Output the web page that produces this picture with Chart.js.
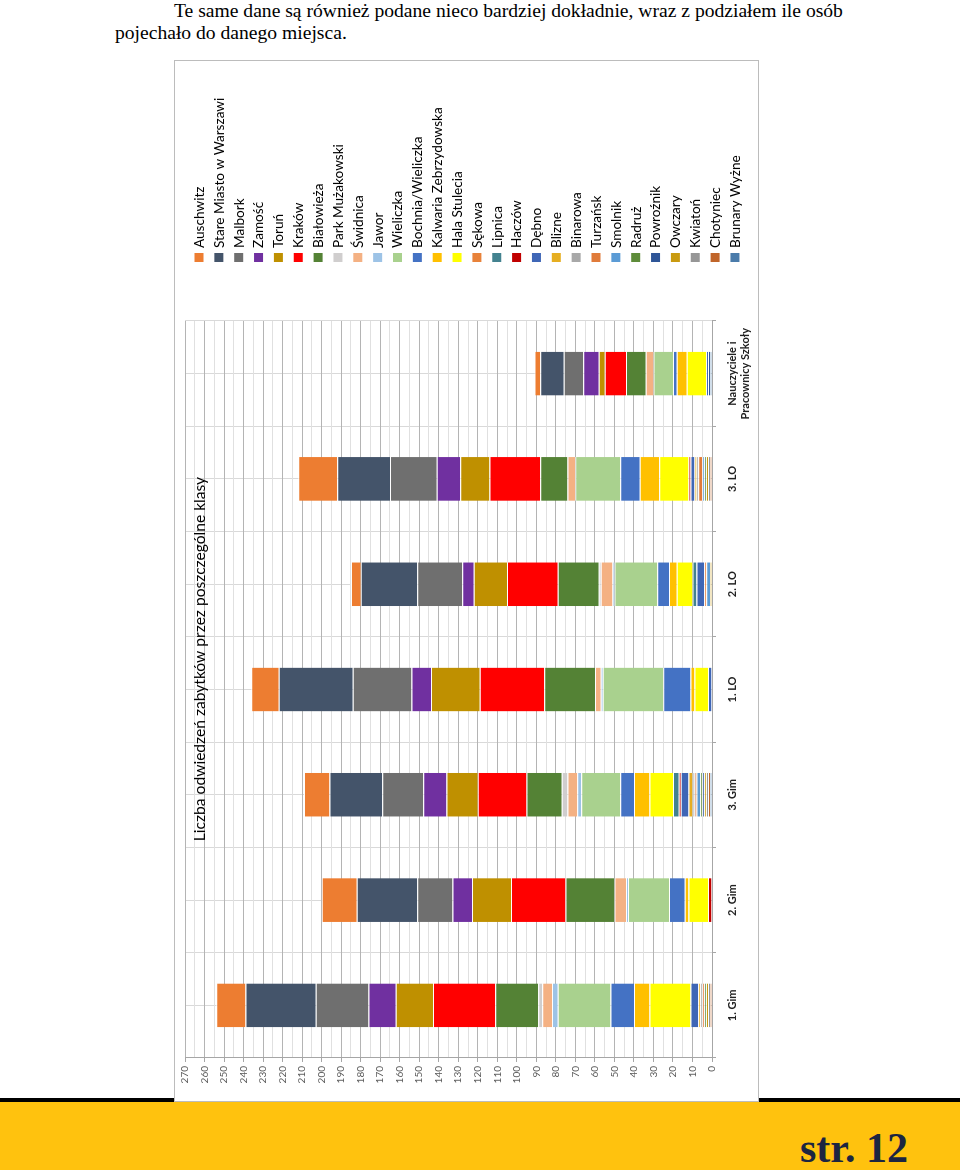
<!DOCTYPE html>
<html>
<head>
<meta charset="utf-8">
<script src="https://cdn.jsdelivr.net/npm/chart.js@4.4.1/dist/chart.umd.min.js"></script>
<style>
  body { margin: 0; width: 960px; height: 1170px; position: relative; background: #fff; overflow: hidden; }
  #intro { position: absolute; left: 115px; top: 0; font: 19.6px "Liberation Serif", serif; line-height: 22px; color: #000; white-space: nowrap; }
  #intro .first { padding-left: 59px; }
  #band-line { position: absolute; left: 0; top: 1098px; width: 960px; height: 4px; background: #000; }
  #band { position: absolute; left: 0; top: 1102px; width: 960px; height: 68px; background: #ffc20e; }
  #page { position: absolute; left: 800px; top: 1127px; font: bold 42px "Liberation Serif", serif; line-height: 42px; color: #1c2541; }
  #frame { position: absolute; left: 0; top: 0; width: 1040px; height: 583px; background: #fff;
           outline: 1px solid #bcbcbc; transform-origin: 0 0; transform: translate(175px, 1101px) rotate(-90deg); }
</style>
</head>
<body>
<div id="intro"><span class="first">Te same dane są również podane nieco bardziej dokładnie, wraz z podziałem ile osób</span><br>pojechało do danego miejsca.</div>
<div id="band-line"></div>
<div id="band"></div>
<div id="page">str. 12</div>
<div id="frame"><canvas id="chart" width="1040" height="583"></canvas></div>

<script>
// classes on the category axis
const classes = ['1. Gim', '2. Gim', '3. Gim', '1. LO', '2. LO', '3. LO', ['Nauczyciele i', 'Pracownicy Szkoły']];

// places, in legend order (top of the stack first)
const places = ['Auschwitz', 'Stare Miasto w Warszawi', 'Malbork', 'Zamość', 'Toruń', 'Kraków', 'Białowieża',
  'Park Mużakowski', 'Świdnica', 'Jawor', 'Wieliczka', 'Bochnia/Wieliczka', 'Kalwaria Zebrzydowska', 'Hala Stulecia',
  'Sękowa', 'Lipnica', 'Haczów', 'Dębno', 'Blizne', 'Binarowa', 'Turzańsk', 'Smolnik', 'Radruż', 'Powroźnik',
  'Owczary', 'Kwiatoń', 'Chotyniec', 'Brunary Wyżne'];

const colors = ['#ed7d31', '#44546a', '#6f6f6f', '#7030a0', '#bf9000', '#ff0000', '#548235',
  '#d0cece', '#f4b183', '#9dc3e6', '#a9d18e', '#4472c4', '#ffc000', '#ffff00',
  '#e8823a', '#43828f', '#c00000', '#3f66b6', '#e6ae21', '#a8a8a8', '#e07b3a', '#5b9bd5', '#5e8c3a', '#2e5597',
  '#c99a10', '#969696', '#c0652a', '#4a7baa'];

// visits per place, one array per class (same order as places)
const gim1  = [15, 36, 27, 14, 19, 32, 22, 2, 5, 3, 27, 12, 8, 21, 0, 0, 0, 4, 1, 1, 1, 0, 1, 0, 1, 1, 1, 0];
const gim2  = [18, 31, 18, 10, 20, 28, 25, 0, 6, 1, 21, 8, 2, 10, 0, 0, 2, 0, 0, 0, 0, 0, 0, 0, 0, 0, 0, 0];
const gim3  = [13, 27, 21, 12, 16, 25, 18, 3, 5, 2, 20, 7, 8, 12, 0, 3, 1, 4, 2, 1, 1, 2, 1, 1, 1, 1, 1, 1];
const lo1   = [14, 38, 30, 10, 25, 33, 26, 0, 3, 1, 31, 14, 2, 7, 0, 0, 0, 2, 0, 0, 0, 0, 0, 0, 0, 0, 0, 0];
const lo2   = [5, 29, 23, 6, 17, 26, 21, 1, 6, 1, 22, 6, 4, 8, 0, 2, 0, 4, 0, 0, 1, 2, 0, 0, 1, 0, 0, 0];
const lo3   = [20, 27, 24, 12, 15, 26, 14, 0, 4, 0, 23, 10, 10, 15, 0, 0, 1, 2, 1, 1, 2, 1, 1, 0, 1, 1, 1, 0];
const staff = [3, 12, 10, 8, 3, 11, 10, 0, 4, 0, 10, 2, 5, 10, 0, 0, 0, 1, 0, 0, 0, 0, 0, 1, 0, 0, 0, 1];

const classData = [gim1, gim2, gim3, lo1, lo2, lo3, staff];

// first dataset sits at the bottom of the stack, so build them from the last place up
const datasets = [];
for (let i = places.length - 1; i >= 0; i--) {
  datasets.push({
    label: places[i],
    data: classData.map(c => c[i]),
    backgroundColor: colors[i],
    borderColor: '#ffffff',
    borderWidth: { top: 1, bottom: 0, left: 0, right: 0 },
    xAxisID: 'x',
    categoryPercentage: 0.8,
    barPercentage: 0.52
  });
}

const titleText = 'Liczba odwiedzeń zabytków przez poszczególne klasy';

// title and legend are drawn by hand, the chart sits rotated inside the frame
const frameText = {
  id: 'frameText',
  afterDraw(chart) {
    const ctx = chart.ctx;
    ctx.save();
    ctx.fillStyle = '#000';
    ctx.font = '15.6px Lato';
    ctx.textAlign = 'center';
    ctx.textBaseline = 'middle';
    ctx.fillText(titleText, 442, 25);

    ctx.font = '13.6px Lato';
    ctx.textAlign = 'left';
    places.forEach((name, i) => {
      const y = 24 + 19.85 * i;
      ctx.fillStyle = colors[i];
      ctx.fillRect(839, y - 4.5, 9, 9);
      ctx.fillStyle = '#000';
      ctx.fillText(name, 853, y + 0.5);
    });
    ctx.restore();
  }
};

new Chart(document.getElementById('chart'), {
  type: 'bar',
  data: { labels: classes, datasets: datasets },
  plugins: [frameText],
  options: {
    responsive: false,
    animation: false,
    devicePixelRatio: 1,
    layout: { padding: { top: 7, right: 260, left: 0, bottom: 0 } },
    plugins: { legend: { display: false }, tooltip: { enabled: false } },
    scales: {
      x: {
        stacked: true,
        position: 'bottom',
        grid: { color: '#d9d9d9', tickColor: '#a6a6a6', tickLength: 4 },
        border: { color: '#a6a6a6' },
        ticks: { color: '#222', font: { family: 'Lato', size: 11, weight: 'bold' }, padding: 10, maxRotation: 0, autoSkip: false },
        afterFit: s => { s.height = 46; }
      },
      x2: {
        type: 'category',
        position: 'bottom',
        offset: true,
        grid: { offset: false, color: '#d9d9d9', drawTicks: false },
        border: { display: false },
        ticks: { display: false },
        afterFit: s => { s.height = 0; }
      },
      y: {
        stacked: true,
        min: 0,
        max: 270,
        grid: {
          color: c => (c.tick && c.tick.value % 10 === 0) ? '#b4b4b4' : '#e0e0e0',
          tickColor: c => (c.tick && c.tick.value % 10 === 0) ? '#a6a6a6' : 'rgba(0,0,0,0)',
          tickLength: 4
        },
        border: { color: '#a6a6a6' },
        ticks: {
          stepSize: 5,
          autoSkip: false,
          padding: 4,
          color: '#595959',
          font: { family: 'Lato', size: 10 },
          callback: v => (v % 10 === 0 ? v : '')
        },
        afterFit: s => { s.width = 43; }
      }
    }
  }
});
</script>
</body>
</html>
